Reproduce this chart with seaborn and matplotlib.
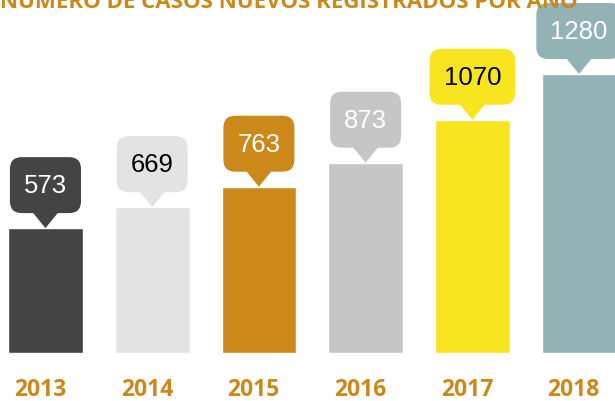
import pandas as pd
import matplotlib.pyplot as plt
import seaborn as sns
from matplotlib.patches import FancyBboxPatch, Polygon
from matplotlib.transforms import IdentityTransform

# datos
years = ["2013", "2014", "2015", "2016", "2017", "2018"]
cases = [573, 669, 763, 873, 1070, 1280]
bar_colors = ["#444444", "#e3e3e3", "#cc8818", "#c6c6c6", "#f8e51f", "#93b2b6"]
label_colors = ["white", "black", "white", "white", "black", "white"]
title = "NÚMERO DE CASOS NUEVOS REGISTRADOS POR AÑO"

df = pd.DataFrame({"year": years, "cases": cases})

sns.set_style("white")
plt.rcParams["font.family"] = ["Liberation Sans", "DejaVu Sans"]

fig = plt.figure(figsize=(6.15, 4.02), dpi=100)
ax = fig.add_axes([0, 0, 1, 1])
sns.barplot(data=df, x="year", y="cases", hue="year", palette=bar_colors,
            width=0.70, legend=False, ax=ax, saturation=1)

ax.set_xlim(-0.426, 5.337)
ax.set_ylim(-220, 1624)
ax.axis("off")

# etiquetas de años
for i, y in enumerate(years):
    ax.text(i - 0.05, -219, y, ha="center", va="bottom", fontsize=16.5,
            fontweight="bold", color="#cc8818", family="Open Sans")

# título (recortado arriba, como en el original)
fig.text(0.47, 0.981, title, ha="center", va="baseline", fontsize=16,
         fontweight="bold", color="#cc8818", family="Open Sans")

# globos con valores
fig.canvas.draw()
renderer = fig.canvas.get_renderer()
bh, gap, tw = 56, 15, 26
for i, v in enumerate(cases):
    px, py = ax.transData.transform((i, v))
    t = fig.text(px / 615, (py + gap + bh / 2) / 402, str(v), ha="center",
                 va="center", fontsize=18.5, color=label_colors[i], zorder=5)
    bw = t.get_window_extent(renderer).width + 28
    box = FancyBboxPatch((px - bw / 2, py + gap), bw, bh,
                         boxstyle="round,pad=0,rounding_size=12",
                         transform=IdentityTransform(), facecolor=bar_colors[i],
                         edgecolor="none")
    fig.patches.append(box)
    tri = Polygon([(px - tw / 2, py + gap + 1), (px + tw / 2, py + gap + 1), (px, py)],
                  closed=True, transform=IdentityTransform(),
                  facecolor=bar_colors[i], edgecolor="none")
    fig.patches.append(tri)

fig.savefig("out.png", dpi=100)
